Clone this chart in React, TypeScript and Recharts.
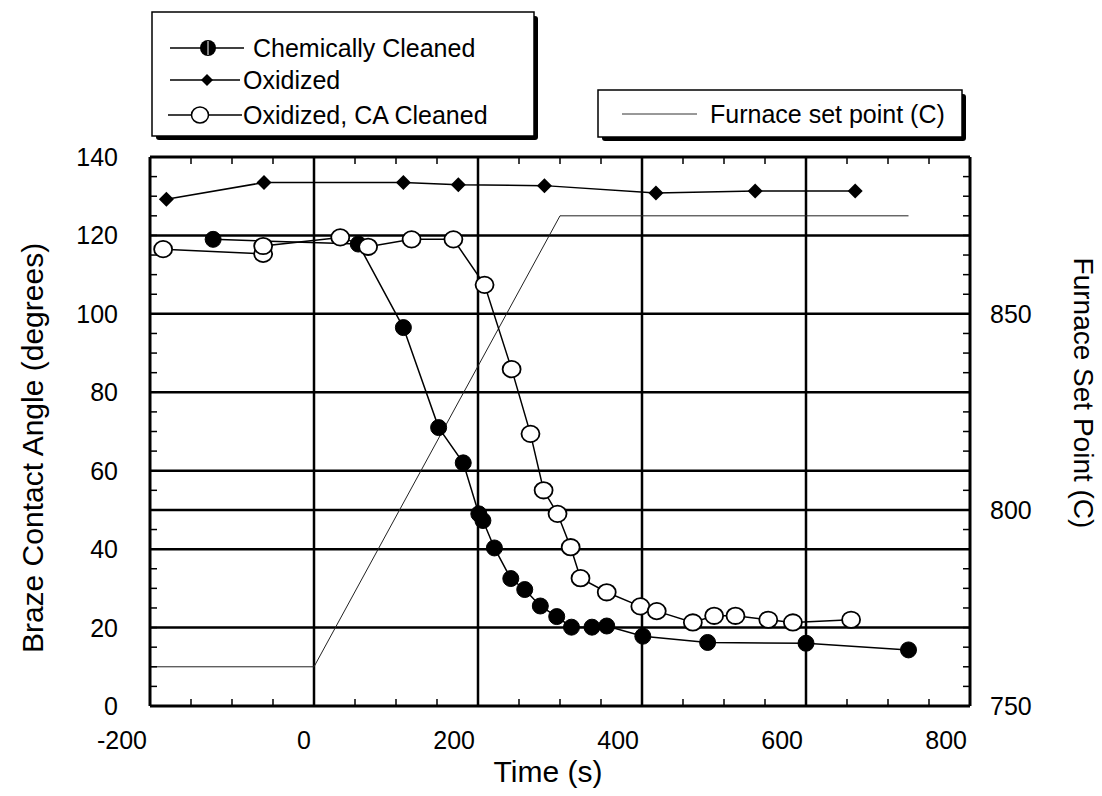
import React from 'react';
import { ComposedChart, Line, XAxis, YAxis, ReferenceLine, Legend } from 'recharts';

const FONT = '"Liberation Sans", Arial, Helvetica, sans-serif';

// ---- data ----
const chemTime = [-123, 54, 109, 152, 182, 201, 206, 220, 240, 257, 276, 296, 314, 339, 357, 401, 480, 600, 725];
const chemAngle = [119.0, 117.8, 96.5, 71.0, 62.0, 49.0, 47.3, 40.3, 32.5, 29.7, 25.5, 22.8, 20.1, 20.1, 20.4, 17.8, 16.2, 16.0, 14.3];

const oxTime = [-180, -61, 109, 176, 281, 417, 538, 660];
const oxAngle = [129.2, 133.5, 133.5, 132.9, 132.7, 130.8, 131.3, 131.3];

const caTime = [-184, -62, -62, 32, 66, 119, 170, 208, 241, 264, 280, 297, 313, 325, 357, 398, 418, 462, 488, 514, 554, 584, 655];
const caAngle = [116.5, 115.3, 117.3, 119.5, 117.1, 119.0, 119.0, 107.4, 85.9, 69.4, 55.0, 49.0, 40.5, 32.6, 29.0, 25.4, 24.2, 21.3, 23.0, 23.0, 22.0, 21.3, 22.0];

const furnaceTime = [-200, 0, 300, 725];
const furnaceTemp = [760, 760, 875, 875];

// ---- ticks / grid ----
const xMajorTicks = [-200, 0, 200, 400, 600, 800];
const xMinorTicks = [-200, -150, -100, -50, 0, 50, 100, 150, 200, 250, 300, 350, 400, 450, 500, 550, 600, 650, 700, 750, 800];
const yLeftLabels = [0, 20, 40, 60, 80, 100, 120, 140];
const yLeftTicks = [0, 5, 10, 15, 20, 25, 30, 35, 40, 45, 50, 55, 60, 65, 70, 75, 80, 85, 90, 95, 100, 105, 110, 115, 120, 125, 130, 135, 140];
const yRightLabels = [750, 800, 850];
const yRightTicks = [750, 755, 760, 765, 770, 775, 780, 785, 790, 795, 800, 805, 810, 815, 820, 825, 830, 835, 840, 845, 850, 855, 860, 865, 870, 875, 880, 885, 890];
const xGrid = [0, 200, 400, 600];
const yLeftGrid = [20, 40, 60, 80, 100, 120];
const yRightGrid = [800];

const toPoints = (ts: number[], vs: number[]) => ts.map((t, i) => ({ t, v: vs[i] }));
const chemData = toPoints(chemTime, chemAngle);
const oxData = toPoints(oxTime, oxAngle);
const caData = toPoints(caTime, caAngle);
const furnaceData = toPoints(furnaceTime, furnaceTemp);

// ---- ticks ----
const BottomTick = (props: any) => {
  const { x, y, payload } = props;
  const v = payload.value;
  return (
    <g>
      <line x1={x} x2={x} y1={y} y2={y - 7} stroke="#000" strokeWidth={1.5} />
      {xMajorTicks.includes(v) && (
        <text x={x - 3} y={y + 43} textAnchor="end" fontSize={25} fontFamily={FONT} fill="#000">
          {v}
        </text>
      )}
    </g>
  );
};

const TopTick = (props: any) => {
  const { x, y } = props;
  return <line x1={x} x2={x} y1={y} y2={y + 7} stroke="#000" strokeWidth={1.5} />;
};

const LeftTick = (props: any) => {
  const { x, y, payload } = props;
  const v = payload.value;
  return (
    <g>
      <line x1={x} x2={x + 7} y1={y} y2={y} stroke="#000" strokeWidth={1.5} />
      {yLeftLabels.includes(v) && (
        <text x={x - 32} y={y + 9} textAnchor="end" fontSize={25} fontFamily={FONT} fill="#000">
          {v}
        </text>
      )}
    </g>
  );
};

const RightTick = (props: any) => {
  const { x, y, payload } = props;
  const v = payload.value;
  return (
    <g>
      <line x1={x} x2={x - 7} y1={y} y2={y} stroke="#000" strokeWidth={1.5} />
      {yRightLabels.includes(v) && (
        <text x={x + 20} y={y + 9} textAnchor="start" fontSize={25} fontFamily={FONT} fill="#000">
          {v}
        </text>
      )}
    </g>
  );
};

// ---- titles ----
const LeftTitle = (props: any) => {
  const vb = props.viewBox || { x: 0, y: 157 };
  const cx = vb.x + 32;
  const cy = vb.y + 291;
  return (
    <text x={cx} y={cy} transform={`rotate(-90, ${cx}, ${cy})`} textAnchor="middle" dominantBaseline="central" fontSize={30} fontFamily={FONT} fill="#000">
      Braze Contact Angle (degrees)
    </text>
  );
};

const RightTitle = (props: any) => {
  const vb = props.viewBox || { x: 970, y: 157 };
  const cx = vb.x + 113;
  const cy = vb.y + 236;
  return (
    <text x={cx} y={cy} transform={`rotate(90, ${cx}, ${cy})`} textAnchor="middle" dominantBaseline="central" fontSize={28} fontFamily={FONT} fill="#000">
      Furnace Set Point (C)
    </text>
  );
};

const BottomTitle = (props: any) => {
  const vb = props.viewBox || { x: 150, y: 706 };
  return (
    <text x={vb.x + 398} y={vb.y + 76} textAnchor="middle" fontSize={30} fontFamily={FONT} fill="#000">
      Time (s)
    </text>
  );
};

// ---- dots ----
const FilledDot = (p: any) =>
  p.cx == null ? null : <circle key={`f${p.index}`} cx={p.cx} cy={p.cy} r={8} fill="#000" stroke="#000" strokeWidth={1} />;
const OpenDot = (p: any) =>
  p.cx == null ? null : <ellipse key={`o${p.index}`} cx={p.cx} cy={p.cy} rx={9} ry={8.2} fill="#fff" stroke="#000" strokeWidth={1.8} />;
const DiamondDot = (p: any) =>
  p.cx == null ? null : (
    <path key={`d${p.index}`} d={`M${p.cx},${p.cy - 7.5} L${p.cx + 7.5},${p.cy} L${p.cx},${p.cy + 7.5} L${p.cx - 7.5},${p.cy} Z`} fill="#000" />
  );

// ---- legend ----
const LegendContent = () => {
  const t = { fontSize: 25, fontFamily: FONT, fill: '#000' } as const;
  return (
    <svg width={1102} height={157} style={{ display: 'block' }}>
      {/* box 1 */}
      <rect x={156} y={16} width={382} height={124} rx={3} fill="#000" />
      <rect x={152} y={12} width={382} height={124} fill="#fff" stroke="#000" strokeWidth={1.5} />
      <line x1={170} x2={244} y1={48} y2={48} stroke="#000" strokeWidth={1.5} />
      <circle cx={208} cy={48} r={8} fill="#000" />
      <line x1={208} x2={208} y1={41} y2={55} stroke="#fff" strokeWidth={1} />
      <text x={253} y={57} {...t}>Chemically Cleaned</text>
      <line x1={170} x2={240} y1={80} y2={80} stroke="#000" strokeWidth={1.5} />
      <path d="M207,74 L213,80 L207,86 L201,80 Z" fill="#000" />
      <text x={243} y={89} {...t}>Oxidized</text>
      <line x1={168} x2={242} y1={115} y2={115} stroke="#000" strokeWidth={1.5} />
      <ellipse cx={200} cy={115} rx={8.5} ry={8} fill="#fff" stroke="#000" strokeWidth={1.5} />
      <text x={243} y={124} {...t}>Oxidized, CA Cleaned</text>
      {/* box 2 */}
      <rect x={602} y={94} width={364} height={47} rx={3} fill="#000" />
      <rect x={598} y={90} width={364} height={47} fill="#fff" stroke="#000" strokeWidth={1.5} />
      <line x1={622} x2={697} y1={114} y2={114} stroke="#333" strokeWidth={1} />
      <text x={710} y={123} {...t}>Furnace set point (C)</text>
    </svg>
  );
};

export default function App() {
  return (
    <div style={{ position: 'absolute', left: 0, top: 0, width: 1102, height: 796, background: '#fff' }}>
      <ComposedChart width={1102} height={796} margin={{ top: 147, right: 0, bottom: 0, left: 0 }}>
        <Legend
          verticalAlign="middle"
          align="center"
          content={<LegendContent />}
          wrapperStyle={{ position: 'absolute', left: 0, top: 0, width: 1102, height: 157 }}
        />
        <XAxis
          xAxisId="main"
          dataKey="t"
          type="number"
          orientation="bottom"
          domain={[-200, 800]}
          ticks={xMinorTicks}
          interval={0}
          allowDataOverflow
          height={90}
          tickSize={0}
          tickMargin={0}
          tickLine={false}
          tick={<BottomTick />}
          axisLine={{ stroke: '#000', strokeWidth: 3 }}
          label={<BottomTitle />}
        />
        <XAxis
          xAxisId="top"
          dataKey="t"
          type="number"
          orientation="top"
          domain={[-200, 800]}
          ticks={xMinorTicks}
          interval={0}
          allowDataOverflow
          height={10}
          tickSize={0}
          tickMargin={0}
          tickLine={false}
          tick={<TopTick />}
          axisLine={{ stroke: '#000', strokeWidth: 3 }}
        />
        <YAxis
          yAxisId="left"
          type="number"
          orientation="left"
          domain={[0, 140]}
          ticks={yLeftTicks}
          interval={0}
          allowDataOverflow
          width={150}
          tickSize={0}
          tickMargin={0}
          tickLine={false}
          tick={<LeftTick />}
          axisLine={{ stroke: '#000', strokeWidth: 3 }}
          label={<LeftTitle />}
        />
        <YAxis
          yAxisId="right"
          type="number"
          orientation="right"
          domain={[750, 890]}
          ticks={yRightTicks}
          interval={0}
          allowDataOverflow
          width={132}
          tickSize={0}
          tickMargin={0}
          tickLine={false}
          tick={<RightTick />}
          axisLine={{ stroke: '#000', strokeWidth: 3 }}
          label={<RightTitle />}
        />
        {xGrid.map((x) => (
          <ReferenceLine key={`gx${x}`} xAxisId="main" yAxisId="left" x={x} stroke="#000" strokeWidth={2.5} />
        ))}
        {yLeftGrid.map((y) => (
          <ReferenceLine key={`gy${y}`} xAxisId="main" yAxisId="left" y={y} stroke="#000" strokeWidth={2.5} />
        ))}
        {yRightGrid.map((y) => (
          <ReferenceLine key={`gr${y}`} xAxisId="main" yAxisId="right" y={y} stroke="#000" strokeWidth={2.5} />
        ))}
        <Line
          xAxisId="main"
          yAxisId="right"
          data={furnaceData}
          dataKey="v"
          type="linear"
          stroke="#222"
          strokeWidth={1}
          dot={false}
          isAnimationActive={false}
          name="Furnace set point (C)"
        />
        <Line
          xAxisId="main"
          yAxisId="left"
          data={oxData}
          dataKey="v"
          type="linear"
          stroke="#000"
          strokeWidth={1.5}
          dot={DiamondDot}
          isAnimationActive={false}
          name="Oxidized"
        />
        <Line
          xAxisId="main"
          yAxisId="left"
          data={chemData}
          dataKey="v"
          type="linear"
          stroke="#000"
          strokeWidth={1.5}
          dot={FilledDot}
          isAnimationActive={false}
          name="Chemically Cleaned"
        />
        <Line
          xAxisId="main"
          yAxisId="left"
          data={caData}
          dataKey="v"
          type="linear"
          stroke="#000"
          strokeWidth={1.5}
          dot={OpenDot}
          isAnimationActive={false}
          name="Oxidized, CA Cleaned"
        />
      </ComposedChart>
    </div>
  );
}
